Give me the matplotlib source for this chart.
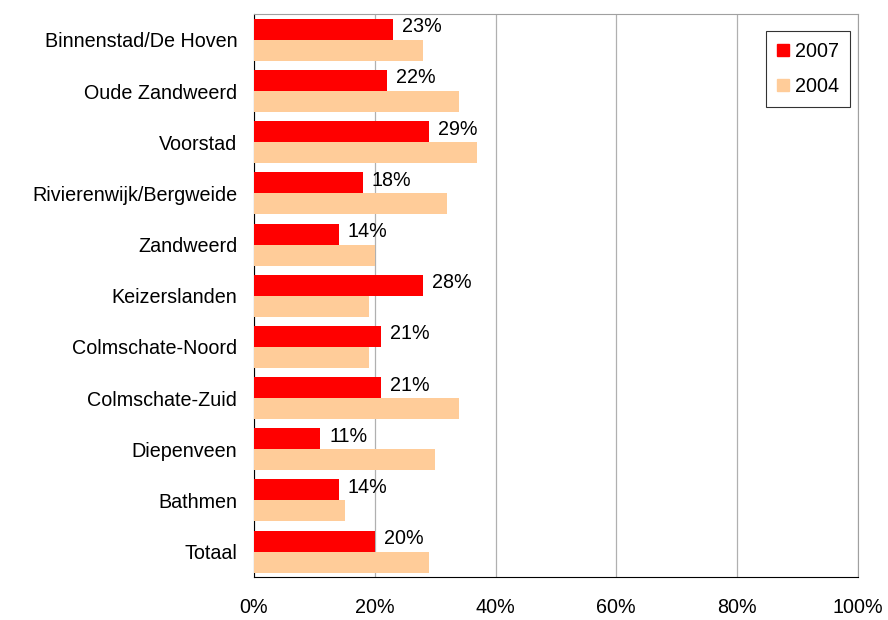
import matplotlib.pyplot as plt
import numpy as np
from matplotlib.patches import Patch

wijken = [
    "Binnenstad/De Hoven",
    "Oude Zandweerd",
    "Voorstad",
    "Rivierenwijk/Bergweide",
    "Zandweerd",
    "Keizerslanden",
    "Colmschate-Noord",
    "Colmschate-Zuid",
    "Diepenveen",
    "Bathmen",
    "Totaal",
]
waarden_2007 = [23, 22, 29, 18, 14, 28, 21, 21, 11, 14, 20]
waarden_2004 = [28, 34, 37, 32, 20, 19, 19, 34, 30, 15, 29]

FS = 14.2

plt.rcParams.update(
    {
        "font.family": ["Liberation Sans", "DejaVu Sans"],
        "font.size": FS,
    }
)

colors = {"2007": "#ff0000", "2004": "#ffcc99"}

fig = plt.figure(figsize=(8.88, 6.20), dpi=100)
ax = fig.add_axes([0.286, 0.069, 0.68, 0.908])

y = np.arange(len(wijken))
h = 0.41
ax.barh(y - h / 2, waarden_2007, height=h, color=colors["2007"], zorder=3)
ax.barh(y + h / 2, waarden_2004, height=h, color=colors["2004"], zorder=3)

for yi, v in zip(y, waarden_2007):
    ax.text(v + 1.5, yi - h / 2 - 0.05, f"{v}%", fontsize=FS, va="center", ha="left")

ax.set_xlim(0, 100)
ax.set_ylim(len(wijken) - 0.5, -0.5)
ax.set_xticks([0, 20, 40, 60, 80, 100])
ax.set_xticklabels([f"{t}%" for t in [0, 20, 40, 60, 80, 100]])
ax.set_yticks(y)
ax.set_yticklabels(wijken)
ax.tick_params(axis="both", length=0, labelsize=FS)
ax.tick_params(axis="x", pad=15)
ax.tick_params(axis="y", pad=12)

ax.grid(axis="x", color="#b0b0b0", linewidth=0.9, zorder=0)
for side in ["top", "right"]:
    ax.spines[side].set_color("#a0a0a0")
for side in ["left", "bottom"]:
    ax.spines[side].set_color("black")

handles = [Patch(color=colors["2007"], label="2007"), Patch(color=colors["2004"], label="2004")]
leg = ax.legend(
    handles=handles,
    loc="upper right",
    bbox_to_anchor=(0.987, 0.97),
    frameon=True,
    fancybox=False,
    edgecolor="black",
    handlelength=0.6,
    handleheight=0.6,
    handletextpad=0.3,
    labelspacing=0.8,
    borderpad=0.55,
    borderaxespad=0.0,
    fontsize=FS,
)
leg.get_frame().set_linewidth(0.8)

fig.savefig("out.png", dpi=100)
